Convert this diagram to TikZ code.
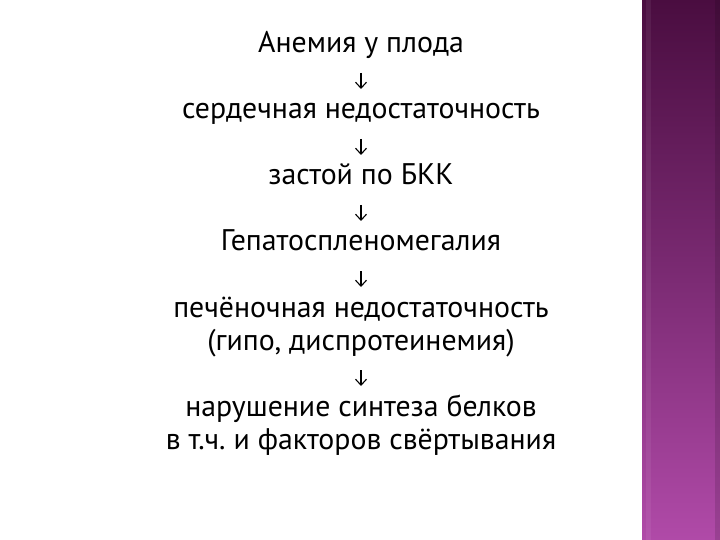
\documentclass[tikz,border=0pt]{standalone}
\usepackage{fontspec}
\setmainfont{PT Sans}
\usetikzlibrary{arrows.meta}
\definecolor{bartop}{HTML}{4A0D40}
\definecolor{barmid}{HTML}{7A2A72}
\definecolor{barbot}{HTML}{B04AA8}
\tikzset{
  line/.style={anchor=base, inner sep=0pt, font=\fontsize{29.8}{33}\selectfont, text=black},
  arr/.style={draw=black, line width=1.1pt, -{Straight Barb[length=6pt,width=11pt]}}
}
\frenchspacing
\begin{document}
\begin{tikzpicture}[x=1pt,y=-1pt]
\fill[white] (0,0) rectangle (720,540);
\useasboundingbox (0,0) rectangle (720,540);
% right decorative bar
\shade[top color=bartop, bottom color=barbot, middle color=barmid] (642,0) rectangle (720,540);
\fill[white, opacity=0.06] (646,0) rectangle (651,540);
\fill[black, opacity=0.12] (715,0) rectangle (720,540);
% text lines (baselines every 33)
\node[line] (t1) at (361,53) {Анемия у плода};
\node[line] (t2) at (361,119) {сердечная недостаточность};
\node[line] (t3) at (361,185) {застой по БКК};
\node[line] (t4) at (361,251) {Гепатоспленомегалия};
\node[line] (t5) at (361,317) {печёночная недостаточность};
\node[line] (t6) at (361,350) {(гипо, диспротеинемия)};
\node[line] (t7) at (361,416) {нарушение синтеза белков};
\node[line] (t8) at (361,449) {в т.ч. и факторов свёртывания};
% arrows
\draw[arr] ([yshift=-20pt]t1.base) -- ([yshift=30pt]t2.base);
\draw[arr] ([yshift=-20pt]t2.base) -- ([yshift=30pt]t3.base);
\draw[arr] ([yshift=-20pt]t3.base) -- ([yshift=30pt]t4.base);
\draw[arr] ([yshift=-20pt]t4.base) -- ([yshift=30pt]t5.base);
\draw[arr] ([yshift=-20pt]t6.base) -- ([yshift=30pt]t7.base);
\end{tikzpicture}
\end{document}
